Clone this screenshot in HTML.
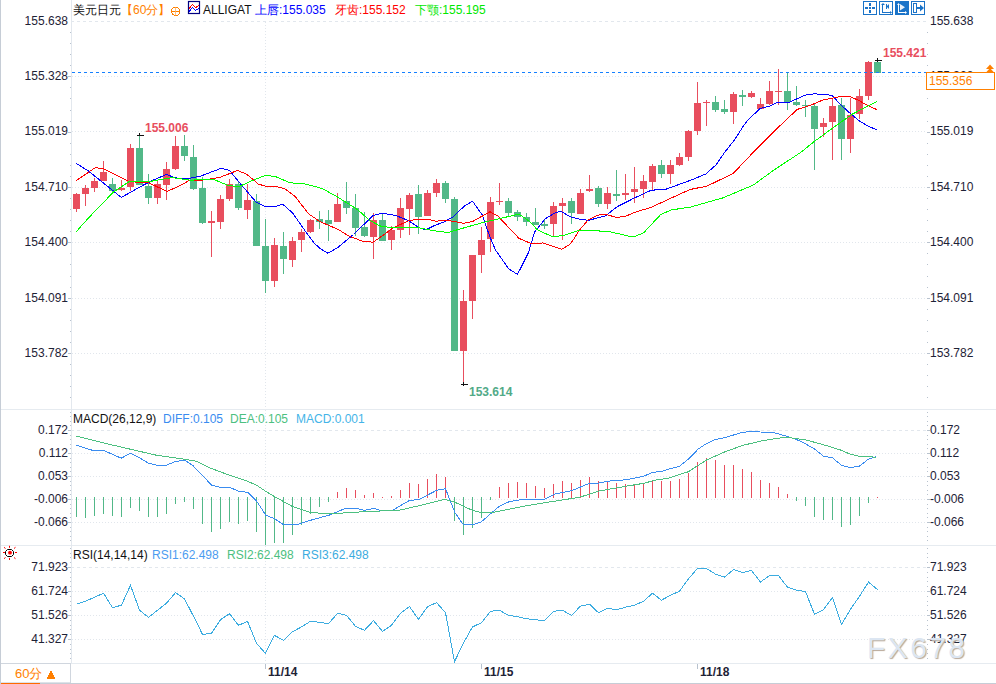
<!DOCTYPE html>
<html><head><meta charset="utf-8"><style>
*{margin:0;padding:0;box-sizing:border-box}
html,body{width:996px;height:684px;overflow:hidden;background:#fff}
body{position:relative;font-family:"Liberation Sans",sans-serif;font-size:12px;color:#222}
svg{position:absolute;left:0;top:0}
.yl{position:absolute;height:16px;line-height:16px;font-size:12px;color:#1e2236;white-space:nowrap}
.yl.l{right:928px;text-align:right}
.yl.r{left:930px}
.t{position:absolute;white-space:nowrap;font-size:12px;line-height:16px}
.xl{position:absolute;top:664px;font-weight:bold;font-size:12px;line-height:16px;color:#1e2236}
</style></head><body>
<svg width="996" height="684" viewBox="0 0 996 684">
<rect x="0" y="0" width="1" height="684" fill="#c6cdd6"/>
<rect x="1" y="409" width="995" height="1" fill="#e6ebf0"/>
<rect x="1" y="545" width="995" height="1" fill="#e6ebf0"/>
<rect x="1" y="663" width="995" height="1" fill="#e6ebf0"/>
<rect x="0" y="683" width="996" height="1" fill="#c6cdd6"/>
<rect x="71" y="0" width="1" height="663" fill="#e3e8ee"/>
<line x1="72" y1="21.5" x2="926" y2="21.5" stroke="#e2e7ed" stroke-dasharray="3,3" stroke-dashoffset="1"/>
<line x1="72" y1="76.5" x2="926" y2="76.5" stroke="#e1e6ec" stroke-dasharray="1,2"/>
<line x1="72" y1="131.5" x2="926" y2="131.5" stroke="#e1e6ec" stroke-dasharray="1,2"/>
<line x1="72" y1="187.5" x2="926" y2="187.5" stroke="#e1e6ec" stroke-dasharray="1,2"/>
<line x1="72" y1="242.5" x2="926" y2="242.5" stroke="#e1e6ec" stroke-dasharray="1,2"/>
<line x1="72" y1="298.5" x2="926" y2="298.5" stroke="#e1e6ec" stroke-dasharray="1,2"/>
<line x1="72" y1="353.5" x2="926" y2="353.5" stroke="#e1e6ec" stroke-dasharray="1,2"/>
<line x1="72" y1="430.5" x2="926" y2="430.5" stroke="#e2e7ed" stroke-dasharray="3,3" stroke-dashoffset="1"/>
<line x1="72" y1="453.5" x2="926" y2="453.5" stroke="#e1e6ec" stroke-dasharray="1,2"/>
<line x1="72" y1="476.5" x2="926" y2="476.5" stroke="#e1e6ec" stroke-dasharray="1,2"/>
<line x1="72" y1="499.5" x2="926" y2="499.5" stroke="#e1e6ec" stroke-dasharray="1,2"/>
<line x1="72" y1="522.5" x2="926" y2="522.5" stroke="#e1e6ec" stroke-dasharray="1,2"/>
<line x1="72" y1="567.5" x2="926" y2="567.5" stroke="#e2e7ed" stroke-dasharray="3,3" stroke-dashoffset="1"/>
<line x1="72" y1="591.5" x2="926" y2="591.5" stroke="#e1e6ec" stroke-dasharray="1,2"/>
<line x1="72" y1="615.5" x2="926" y2="615.5" stroke="#e1e6ec" stroke-dasharray="1,2"/>
<line x1="72" y1="639.5" x2="926" y2="639.5" stroke="#e1e6ec" stroke-dasharray="1,2"/>
<line x1="265.5" y1="22" x2="265.5" y2="409" stroke="#e1e6ec" stroke-dasharray="1,2"/>
<line x1="265.5" y1="410" x2="265.5" y2="545" stroke="#e1e6ec" stroke-dasharray="1,2"/>
<line x1="265.5" y1="546" x2="265.5" y2="663" stroke="#e1e6ec" stroke-dasharray="1,2"/>
<rect x="70" y="32" width="1" height="1" fill="#b8c2ce"/>
<rect x="927" y="32" width="1" height="1" fill="#b8c2ce"/>
<rect x="70" y="43" width="1" height="1" fill="#b8c2ce"/>
<rect x="927" y="43" width="1" height="1" fill="#b8c2ce"/>
<rect x="70" y="54" width="1" height="1" fill="#b8c2ce"/>
<rect x="927" y="54" width="1" height="1" fill="#b8c2ce"/>
<rect x="70" y="65" width="1" height="1" fill="#b8c2ce"/>
<rect x="927" y="65" width="1" height="1" fill="#b8c2ce"/>
<rect x="68" y="76" width="3" height="1" fill="#b8c2ce"/>
<rect x="927" y="76" width="3" height="1" fill="#b8c2ce"/>
<rect x="70" y="87" width="1" height="1" fill="#b8c2ce"/>
<rect x="927" y="87" width="1" height="1" fill="#b8c2ce"/>
<rect x="70" y="98" width="1" height="1" fill="#b8c2ce"/>
<rect x="927" y="98" width="1" height="1" fill="#b8c2ce"/>
<rect x="70" y="110" width="1" height="1" fill="#b8c2ce"/>
<rect x="927" y="110" width="1" height="1" fill="#b8c2ce"/>
<rect x="70" y="121" width="1" height="1" fill="#b8c2ce"/>
<rect x="927" y="121" width="1" height="1" fill="#b8c2ce"/>
<rect x="68" y="132" width="3" height="1" fill="#b8c2ce"/>
<rect x="927" y="132" width="3" height="1" fill="#b8c2ce"/>
<rect x="70" y="143" width="1" height="1" fill="#b8c2ce"/>
<rect x="927" y="143" width="1" height="1" fill="#b8c2ce"/>
<rect x="70" y="154" width="1" height="1" fill="#b8c2ce"/>
<rect x="927" y="154" width="1" height="1" fill="#b8c2ce"/>
<rect x="70" y="165" width="1" height="1" fill="#b8c2ce"/>
<rect x="927" y="165" width="1" height="1" fill="#b8c2ce"/>
<rect x="70" y="176" width="1" height="1" fill="#b8c2ce"/>
<rect x="927" y="176" width="1" height="1" fill="#b8c2ce"/>
<rect x="68" y="187" width="3" height="1" fill="#b8c2ce"/>
<rect x="927" y="187" width="3" height="1" fill="#b8c2ce"/>
<rect x="70" y="198" width="1" height="1" fill="#b8c2ce"/>
<rect x="927" y="198" width="1" height="1" fill="#b8c2ce"/>
<rect x="70" y="209" width="1" height="1" fill="#b8c2ce"/>
<rect x="927" y="209" width="1" height="1" fill="#b8c2ce"/>
<rect x="70" y="220" width="1" height="1" fill="#b8c2ce"/>
<rect x="927" y="220" width="1" height="1" fill="#b8c2ce"/>
<rect x="70" y="231" width="1" height="1" fill="#b8c2ce"/>
<rect x="927" y="231" width="1" height="1" fill="#b8c2ce"/>
<rect x="68" y="242" width="3" height="1" fill="#b8c2ce"/>
<rect x="927" y="242" width="3" height="1" fill="#b8c2ce"/>
<rect x="70" y="253" width="1" height="1" fill="#b8c2ce"/>
<rect x="927" y="253" width="1" height="1" fill="#b8c2ce"/>
<rect x="70" y="264" width="1" height="1" fill="#b8c2ce"/>
<rect x="927" y="264" width="1" height="1" fill="#b8c2ce"/>
<rect x="70" y="276" width="1" height="1" fill="#b8c2ce"/>
<rect x="927" y="276" width="1" height="1" fill="#b8c2ce"/>
<rect x="70" y="287" width="1" height="1" fill="#b8c2ce"/>
<rect x="927" y="287" width="1" height="1" fill="#b8c2ce"/>
<rect x="68" y="298" width="3" height="1" fill="#b8c2ce"/>
<rect x="927" y="298" width="3" height="1" fill="#b8c2ce"/>
<rect x="70" y="309" width="1" height="1" fill="#b8c2ce"/>
<rect x="927" y="309" width="1" height="1" fill="#b8c2ce"/>
<rect x="70" y="320" width="1" height="1" fill="#b8c2ce"/>
<rect x="927" y="320" width="1" height="1" fill="#b8c2ce"/>
<rect x="70" y="331" width="1" height="1" fill="#b8c2ce"/>
<rect x="927" y="331" width="1" height="1" fill="#b8c2ce"/>
<rect x="70" y="342" width="1" height="1" fill="#b8c2ce"/>
<rect x="927" y="342" width="1" height="1" fill="#b8c2ce"/>
<rect x="68" y="353" width="3" height="1" fill="#b8c2ce"/>
<rect x="927" y="353" width="3" height="1" fill="#b8c2ce"/>
<rect x="70" y="364" width="1" height="1" fill="#b8c2ce"/>
<rect x="927" y="364" width="1" height="1" fill="#b8c2ce"/>
<rect x="70" y="375" width="1" height="1" fill="#b8c2ce"/>
<rect x="927" y="375" width="1" height="1" fill="#b8c2ce"/>
<rect x="70" y="386" width="1" height="1" fill="#b8c2ce"/>
<rect x="927" y="386" width="1" height="1" fill="#b8c2ce"/>
<rect x="70" y="397" width="1" height="1" fill="#b8c2ce"/>
<rect x="927" y="397" width="1" height="1" fill="#b8c2ce"/>
<rect x="70" y="412" width="1" height="1" fill="#b8c2ce"/>
<rect x="927" y="412" width="1" height="1" fill="#b8c2ce"/>
<rect x="70" y="416" width="1" height="1" fill="#b8c2ce"/>
<rect x="927" y="416" width="1" height="1" fill="#b8c2ce"/>
<rect x="70" y="421" width="1" height="1" fill="#b8c2ce"/>
<rect x="927" y="421" width="1" height="1" fill="#b8c2ce"/>
<rect x="70" y="425" width="1" height="1" fill="#b8c2ce"/>
<rect x="927" y="425" width="1" height="1" fill="#b8c2ce"/>
<rect x="68" y="430" width="3" height="1" fill="#b8c2ce"/>
<rect x="927" y="430" width="3" height="1" fill="#b8c2ce"/>
<rect x="70" y="435" width="1" height="1" fill="#b8c2ce"/>
<rect x="927" y="435" width="1" height="1" fill="#b8c2ce"/>
<rect x="70" y="439" width="1" height="1" fill="#b8c2ce"/>
<rect x="927" y="439" width="1" height="1" fill="#b8c2ce"/>
<rect x="70" y="444" width="1" height="1" fill="#b8c2ce"/>
<rect x="927" y="444" width="1" height="1" fill="#b8c2ce"/>
<rect x="70" y="448" width="1" height="1" fill="#b8c2ce"/>
<rect x="927" y="448" width="1" height="1" fill="#b8c2ce"/>
<rect x="68" y="453" width="3" height="1" fill="#b8c2ce"/>
<rect x="927" y="453" width="3" height="1" fill="#b8c2ce"/>
<rect x="70" y="458" width="1" height="1" fill="#b8c2ce"/>
<rect x="927" y="458" width="1" height="1" fill="#b8c2ce"/>
<rect x="70" y="462" width="1" height="1" fill="#b8c2ce"/>
<rect x="927" y="462" width="1" height="1" fill="#b8c2ce"/>
<rect x="70" y="467" width="1" height="1" fill="#b8c2ce"/>
<rect x="927" y="467" width="1" height="1" fill="#b8c2ce"/>
<rect x="70" y="471" width="1" height="1" fill="#b8c2ce"/>
<rect x="927" y="471" width="1" height="1" fill="#b8c2ce"/>
<rect x="68" y="476" width="3" height="1" fill="#b8c2ce"/>
<rect x="927" y="476" width="3" height="1" fill="#b8c2ce"/>
<rect x="70" y="481" width="1" height="1" fill="#b8c2ce"/>
<rect x="927" y="481" width="1" height="1" fill="#b8c2ce"/>
<rect x="70" y="485" width="1" height="1" fill="#b8c2ce"/>
<rect x="927" y="485" width="1" height="1" fill="#b8c2ce"/>
<rect x="70" y="490" width="1" height="1" fill="#b8c2ce"/>
<rect x="927" y="490" width="1" height="1" fill="#b8c2ce"/>
<rect x="70" y="494" width="1" height="1" fill="#b8c2ce"/>
<rect x="927" y="494" width="1" height="1" fill="#b8c2ce"/>
<rect x="68" y="499" width="3" height="1" fill="#b8c2ce"/>
<rect x="927" y="499" width="3" height="1" fill="#b8c2ce"/>
<rect x="70" y="504" width="1" height="1" fill="#b8c2ce"/>
<rect x="927" y="504" width="1" height="1" fill="#b8c2ce"/>
<rect x="70" y="508" width="1" height="1" fill="#b8c2ce"/>
<rect x="927" y="508" width="1" height="1" fill="#b8c2ce"/>
<rect x="70" y="513" width="1" height="1" fill="#b8c2ce"/>
<rect x="927" y="513" width="1" height="1" fill="#b8c2ce"/>
<rect x="70" y="517" width="1" height="1" fill="#b8c2ce"/>
<rect x="927" y="517" width="1" height="1" fill="#b8c2ce"/>
<rect x="68" y="522" width="3" height="1" fill="#b8c2ce"/>
<rect x="927" y="522" width="3" height="1" fill="#b8c2ce"/>
<rect x="70" y="527" width="1" height="1" fill="#b8c2ce"/>
<rect x="927" y="527" width="1" height="1" fill="#b8c2ce"/>
<rect x="70" y="531" width="1" height="1" fill="#b8c2ce"/>
<rect x="927" y="531" width="1" height="1" fill="#b8c2ce"/>
<rect x="70" y="536" width="1" height="1" fill="#b8c2ce"/>
<rect x="927" y="536" width="1" height="1" fill="#b8c2ce"/>
<rect x="70" y="540" width="1" height="1" fill="#b8c2ce"/>
<rect x="927" y="540" width="1" height="1" fill="#b8c2ce"/>
<rect x="70" y="548" width="1" height="1" fill="#b8c2ce"/>
<rect x="927" y="548" width="1" height="1" fill="#b8c2ce"/>
<rect x="70" y="553" width="1" height="1" fill="#b8c2ce"/>
<rect x="927" y="553" width="1" height="1" fill="#b8c2ce"/>
<rect x="70" y="557" width="1" height="1" fill="#b8c2ce"/>
<rect x="927" y="557" width="1" height="1" fill="#b8c2ce"/>
<rect x="70" y="562" width="1" height="1" fill="#b8c2ce"/>
<rect x="927" y="562" width="1" height="1" fill="#b8c2ce"/>
<rect x="68" y="567" width="3" height="1" fill="#b8c2ce"/>
<rect x="927" y="567" width="3" height="1" fill="#b8c2ce"/>
<rect x="70" y="572" width="1" height="1" fill="#b8c2ce"/>
<rect x="927" y="572" width="1" height="1" fill="#b8c2ce"/>
<rect x="70" y="577" width="1" height="1" fill="#b8c2ce"/>
<rect x="927" y="577" width="1" height="1" fill="#b8c2ce"/>
<rect x="70" y="581" width="1" height="1" fill="#b8c2ce"/>
<rect x="927" y="581" width="1" height="1" fill="#b8c2ce"/>
<rect x="70" y="586" width="1" height="1" fill="#b8c2ce"/>
<rect x="927" y="586" width="1" height="1" fill="#b8c2ce"/>
<rect x="68" y="591" width="3" height="1" fill="#b8c2ce"/>
<rect x="927" y="591" width="3" height="1" fill="#b8c2ce"/>
<rect x="70" y="596" width="1" height="1" fill="#b8c2ce"/>
<rect x="927" y="596" width="1" height="1" fill="#b8c2ce"/>
<rect x="70" y="601" width="1" height="1" fill="#b8c2ce"/>
<rect x="927" y="601" width="1" height="1" fill="#b8c2ce"/>
<rect x="70" y="605" width="1" height="1" fill="#b8c2ce"/>
<rect x="927" y="605" width="1" height="1" fill="#b8c2ce"/>
<rect x="70" y="610" width="1" height="1" fill="#b8c2ce"/>
<rect x="927" y="610" width="1" height="1" fill="#b8c2ce"/>
<rect x="68" y="615" width="3" height="1" fill="#b8c2ce"/>
<rect x="927" y="615" width="3" height="1" fill="#b8c2ce"/>
<rect x="70" y="620" width="1" height="1" fill="#b8c2ce"/>
<rect x="927" y="620" width="1" height="1" fill="#b8c2ce"/>
<rect x="70" y="625" width="1" height="1" fill="#b8c2ce"/>
<rect x="927" y="625" width="1" height="1" fill="#b8c2ce"/>
<rect x="70" y="629" width="1" height="1" fill="#b8c2ce"/>
<rect x="927" y="629" width="1" height="1" fill="#b8c2ce"/>
<rect x="70" y="634" width="1" height="1" fill="#b8c2ce"/>
<rect x="927" y="634" width="1" height="1" fill="#b8c2ce"/>
<rect x="68" y="639" width="3" height="1" fill="#b8c2ce"/>
<rect x="927" y="639" width="3" height="1" fill="#b8c2ce"/>
<rect x="70" y="644" width="1" height="1" fill="#b8c2ce"/>
<rect x="927" y="644" width="1" height="1" fill="#b8c2ce"/>
<rect x="70" y="649" width="1" height="1" fill="#b8c2ce"/>
<rect x="927" y="649" width="1" height="1" fill="#b8c2ce"/>
<rect x="70" y="653" width="1" height="1" fill="#b8c2ce"/>
<rect x="927" y="653" width="1" height="1" fill="#b8c2ce"/>
<rect x="70" y="658" width="1" height="1" fill="#b8c2ce"/>
<rect x="927" y="658" width="1" height="1" fill="#b8c2ce"/>
<g shape-rendering="crispEdges">
<rect x="76" y="193.2" width="1" height="18.6" fill="#e84e5e"/>
<rect x="73" y="194.1" width="7" height="14.6" fill="#e84e5e"/>
<rect x="85" y="185.1" width="1" height="20.8" fill="#e84e5e"/>
<rect x="82" y="188.2" width="7" height="5.5" fill="#e84e5e"/>
<rect x="94" y="178.0" width="1" height="13.8" fill="#e84e5e"/>
<rect x="91" y="181.2" width="7" height="6.6" fill="#e84e5e"/>
<rect x="103" y="160.8" width="1" height="19.9" fill="#e84e5e"/>
<rect x="100" y="172.1" width="7" height="8.6" fill="#e84e5e"/>
<rect x="112" y="178.0" width="1" height="16.0" fill="#52b888"/>
<rect x="109" y="184.1" width="7" height="6.4" fill="#52b888"/>
<rect x="121" y="180.0" width="1" height="11.4" fill="#e84e5e"/>
<rect x="118" y="188.2" width="7" height="1.5" fill="#e84e5e"/>
<rect x="130" y="144.1" width="1" height="46.7" fill="#e84e5e"/>
<rect x="127" y="148.0" width="7" height="38.6" fill="#e84e5e"/>
<rect x="139" y="135.3" width="1" height="49.3" fill="#52b888"/>
<rect x="136" y="148.0" width="7" height="36.6" fill="#52b888"/>
<rect x="148" y="174.0" width="1" height="30.0" fill="#52b888"/>
<rect x="145" y="185.8" width="7" height="11.8" fill="#52b888"/>
<rect x="157" y="180.5" width="1" height="23.5" fill="#e84e5e"/>
<rect x="154" y="184.0" width="7" height="13.6" fill="#e84e5e"/>
<rect x="166" y="162.1" width="1" height="37.6" fill="#e84e5e"/>
<rect x="163" y="169.0" width="7" height="15.6" fill="#e84e5e"/>
<rect x="175" y="136.2" width="1" height="33.5" fill="#e84e5e"/>
<rect x="172" y="146.0" width="7" height="22.7" fill="#e84e5e"/>
<rect x="184" y="134.9" width="1" height="25.6" fill="#52b888"/>
<rect x="181" y="146.0" width="7" height="9.7" fill="#52b888"/>
<rect x="193" y="145.0" width="1" height="44.7" fill="#52b888"/>
<rect x="190" y="157.0" width="7" height="31.8" fill="#52b888"/>
<rect x="202" y="177.2" width="1" height="46.6" fill="#52b888"/>
<rect x="199" y="188.0" width="7" height="34.9" fill="#52b888"/>
<rect x="211" y="211.0" width="1" height="45.7" fill="#e84e5e"/>
<rect x="208" y="221.2" width="7" height="1.7" fill="#e84e5e"/>
<rect x="220" y="195.0" width="1" height="34.0" fill="#e84e5e"/>
<rect x="217" y="199.2" width="7" height="22.5" fill="#e84e5e"/>
<rect x="229" y="179.0" width="1" height="21.8" fill="#e84e5e"/>
<rect x="226" y="184.1" width="7" height="14.7" fill="#e84e5e"/>
<rect x="238" y="182.0" width="1" height="27.7" fill="#52b888"/>
<rect x="235" y="184.1" width="7" height="23.7" fill="#52b888"/>
<rect x="247" y="184.1" width="1" height="34.8" fill="#e84e5e"/>
<rect x="244" y="200.1" width="7" height="9.6" fill="#e84e5e"/>
<rect x="256" y="194.0" width="1" height="51.8" fill="#52b888"/>
<rect x="253" y="200.8" width="7" height="45.0" fill="#52b888"/>
<rect x="265" y="219.2" width="1" height="73.7" fill="#52b888"/>
<rect x="262" y="245.9" width="7" height="34.9" fill="#52b888"/>
<rect x="274" y="238.0" width="1" height="49.0" fill="#e84e5e"/>
<rect x="271" y="245.0" width="7" height="35.8" fill="#e84e5e"/>
<rect x="283" y="232.1" width="1" height="42.0" fill="#52b888"/>
<rect x="280" y="245.9" width="7" height="13.0" fill="#52b888"/>
<rect x="292" y="237.0" width="1" height="30.0" fill="#e84e5e"/>
<rect x="289" y="241.2" width="7" height="18.5" fill="#e84e5e"/>
<rect x="301" y="229.1" width="1" height="22.7" fill="#e84e5e"/>
<rect x="298" y="232.0" width="7" height="7.9" fill="#e84e5e"/>
<rect x="310" y="219.2" width="1" height="13.4" fill="#e84e5e"/>
<rect x="307" y="219.9" width="7" height="11.8" fill="#e84e5e"/>
<rect x="319" y="211.0" width="1" height="17.8" fill="#52b888"/>
<rect x="316" y="219.1" width="7" height="2.6" fill="#52b888"/>
<rect x="328" y="210.1" width="1" height="30.6" fill="#52b888"/>
<rect x="325" y="220.0" width="7" height="3.7" fill="#52b888"/>
<rect x="337" y="193.0" width="1" height="28.7" fill="#e84e5e"/>
<rect x="334" y="203.9" width="7" height="17.8" fill="#e84e5e"/>
<rect x="346" y="182.1" width="1" height="31.7" fill="#52b888"/>
<rect x="343" y="201.2" width="7" height="6.6" fill="#52b888"/>
<rect x="355" y="194.1" width="1" height="42.3" fill="#52b888"/>
<rect x="352" y="208.2" width="7" height="19.4" fill="#52b888"/>
<rect x="364" y="212.1" width="1" height="24.6" fill="#52b888"/>
<rect x="361" y="227.0" width="7" height="8.8" fill="#52b888"/>
<rect x="373" y="213.0" width="1" height="45.8" fill="#e84e5e"/>
<rect x="370" y="220.0" width="7" height="16.7" fill="#e84e5e"/>
<rect x="382" y="213.8" width="1" height="26.9" fill="#52b888"/>
<rect x="379" y="220.0" width="7" height="20.7" fill="#52b888"/>
<rect x="391" y="225.9" width="1" height="23.7" fill="#e84e5e"/>
<rect x="388" y="230.1" width="7" height="9.6" fill="#e84e5e"/>
<rect x="400" y="197.9" width="1" height="40.1" fill="#e84e5e"/>
<rect x="397" y="208.2" width="7" height="21.7" fill="#e84e5e"/>
<rect x="409" y="193.0" width="1" height="41.7" fill="#e84e5e"/>
<rect x="406" y="195.0" width="7" height="13.8" fill="#e84e5e"/>
<rect x="418" y="185.1" width="1" height="48.7" fill="#52b888"/>
<rect x="415" y="194.1" width="7" height="22.6" fill="#52b888"/>
<rect x="427" y="190.0" width="1" height="25.8" fill="#e84e5e"/>
<rect x="424" y="193.0" width="7" height="22.8" fill="#e84e5e"/>
<rect x="436" y="179.0" width="1" height="18.0" fill="#e84e5e"/>
<rect x="433" y="183.2" width="7" height="9.4" fill="#e84e5e"/>
<rect x="445" y="181.2" width="1" height="21.7" fill="#52b888"/>
<rect x="442" y="183.2" width="7" height="15.5" fill="#52b888"/>
<rect x="454" y="197.0" width="1" height="153.9" fill="#52b888"/>
<rect x="451" y="199.2" width="7" height="151.7" fill="#52b888"/>
<rect x="463" y="290.1" width="1" height="94.4" fill="#e84e5e"/>
<rect x="460" y="301.0" width="7" height="49.9" fill="#e84e5e"/>
<rect x="472" y="255.0" width="1" height="63.8" fill="#e84e5e"/>
<rect x="469" y="255.1" width="7" height="45.6" fill="#e84e5e"/>
<rect x="481" y="227.2" width="1" height="45.5" fill="#e84e5e"/>
<rect x="478" y="240.1" width="7" height="14.8" fill="#e84e5e"/>
<rect x="490" y="197.2" width="1" height="54.4" fill="#e84e5e"/>
<rect x="487" y="202.0" width="7" height="36.7" fill="#e84e5e"/>
<rect x="499" y="183.2" width="1" height="21.7" fill="#e84e5e"/>
<rect x="496" y="200.9" width="7" height="1.5" fill="#e84e5e"/>
<rect x="508" y="198.0" width="1" height="18.0" fill="#52b888"/>
<rect x="505" y="201.2" width="7" height="11.6" fill="#52b888"/>
<rect x="517" y="210.1" width="1" height="10.6" fill="#52b888"/>
<rect x="514" y="212.1" width="7" height="4.6" fill="#52b888"/>
<rect x="526" y="213.2" width="1" height="12.7" fill="#52b888"/>
<rect x="523" y="217.1" width="7" height="4.6" fill="#52b888"/>
<rect x="535" y="208.2" width="1" height="16.8" fill="#52b888"/>
<rect x="532" y="222.2" width="7" height="2.4" fill="#52b888"/>
<rect x="544" y="219.3" width="1" height="9.3" fill="#52b888"/>
<rect x="541" y="224.0" width="7" height="1.9" fill="#52b888"/>
<rect x="553" y="202.0" width="1" height="33.8" fill="#e84e5e"/>
<rect x="550" y="206.2" width="7" height="17.5" fill="#e84e5e"/>
<rect x="562" y="198.0" width="1" height="42.4" fill="#e84e5e"/>
<rect x="559" y="203.2" width="7" height="2.6" fill="#e84e5e"/>
<rect x="571" y="198.0" width="1" height="26.0" fill="#52b888"/>
<rect x="568" y="201.1" width="7" height="11.7" fill="#52b888"/>
<rect x="580" y="189.1" width="1" height="24.7" fill="#e84e5e"/>
<rect x="577" y="193.0" width="7" height="20.8" fill="#e84e5e"/>
<rect x="589" y="175.0" width="1" height="16.8" fill="#e84e5e"/>
<rect x="586" y="189.1" width="7" height="1.7" fill="#e84e5e"/>
<rect x="598" y="186.2" width="1" height="20.6" fill="#52b888"/>
<rect x="595" y="188.2" width="7" height="15.5" fill="#52b888"/>
<rect x="607" y="187.2" width="1" height="21.6" fill="#e84e5e"/>
<rect x="604" y="193.0" width="7" height="10.7" fill="#e84e5e"/>
<rect x="616" y="170.0" width="1" height="30.7" fill="#52b888"/>
<rect x="613" y="194.3" width="7" height="1.5" fill="#52b888"/>
<rect x="625" y="174.1" width="1" height="25.6" fill="#e84e5e"/>
<rect x="622" y="193.0" width="7" height="1.7" fill="#e84e5e"/>
<rect x="634" y="167.1" width="1" height="35.8" fill="#e84e5e"/>
<rect x="631" y="189.1" width="7" height="2.7" fill="#e84e5e"/>
<rect x="643" y="175.0" width="1" height="22.8" fill="#e84e5e"/>
<rect x="640" y="181.2" width="7" height="7.6" fill="#e84e5e"/>
<rect x="652" y="164.1" width="1" height="26.0" fill="#e84e5e"/>
<rect x="649" y="166.1" width="7" height="15.5" fill="#e84e5e"/>
<rect x="661" y="160.1" width="1" height="17.8" fill="#52b888"/>
<rect x="658" y="165.1" width="7" height="8.6" fill="#52b888"/>
<rect x="670" y="160.1" width="1" height="23.7" fill="#e84e5e"/>
<rect x="667" y="165.1" width="7" height="8.6" fill="#e84e5e"/>
<rect x="679" y="153.0" width="1" height="12.8" fill="#e84e5e"/>
<rect x="676" y="157.2" width="7" height="7.5" fill="#e84e5e"/>
<rect x="688" y="130.0" width="1" height="30.8" fill="#e84e5e"/>
<rect x="685" y="130.9" width="7" height="25.7" fill="#e84e5e"/>
<rect x="697" y="82.1" width="1" height="52.6" fill="#e84e5e"/>
<rect x="694" y="103.2" width="7" height="27.5" fill="#e84e5e"/>
<rect x="706" y="100.0" width="1" height="25.9" fill="#e84e5e"/>
<rect x="703" y="101.5" width="7" height="1.5" fill="#e84e5e"/>
<rect x="715" y="96.0" width="1" height="16.0" fill="#52b888"/>
<rect x="712" y="101.9" width="7" height="7.9" fill="#52b888"/>
<rect x="724" y="100.0" width="1" height="14.0" fill="#52b888"/>
<rect x="721" y="109.0" width="7" height="2.7" fill="#52b888"/>
<rect x="733" y="92.0" width="1" height="31.6" fill="#e84e5e"/>
<rect x="730" y="94.0" width="7" height="17.8" fill="#e84e5e"/>
<rect x="742" y="90.1" width="1" height="15.6" fill="#52b888"/>
<rect x="739" y="95.0" width="7" height="1.9" fill="#52b888"/>
<rect x="751" y="91.0" width="1" height="7.0" fill="#e84e5e"/>
<rect x="748" y="93.0" width="7" height="3.9" fill="#e84e5e"/>
<rect x="760" y="98.0" width="1" height="10.8" fill="#e84e5e"/>
<rect x="757" y="104.2" width="7" height="4.6" fill="#e84e5e"/>
<rect x="769" y="81.1" width="1" height="23.7" fill="#e84e5e"/>
<rect x="766" y="91.0" width="7" height="12.9" fill="#e84e5e"/>
<rect x="778" y="68.9" width="1" height="35.9" fill="#e84e5e"/>
<rect x="775" y="90.6" width="7" height="1.5" fill="#e84e5e"/>
<rect x="787" y="72.6" width="1" height="37.2" fill="#52b888"/>
<rect x="784" y="91.0" width="7" height="10.8" fill="#52b888"/>
<rect x="796" y="86.0" width="1" height="19.9" fill="#52b888"/>
<rect x="793" y="102.2" width="7" height="2.6" fill="#52b888"/>
<rect x="805" y="100.0" width="1" height="16.7" fill="#52b888"/>
<rect x="802" y="104.8" width="7" height="1.5" fill="#52b888"/>
<rect x="814" y="102.6" width="1" height="67.1" fill="#52b888"/>
<rect x="811" y="105.9" width="7" height="22.7" fill="#52b888"/>
<rect x="823" y="118.0" width="1" height="18.8" fill="#e84e5e"/>
<rect x="820" y="122.8" width="7" height="4.0" fill="#e84e5e"/>
<rect x="832" y="99.1" width="1" height="60.5" fill="#e84e5e"/>
<rect x="829" y="105.8" width="7" height="15.8" fill="#e84e5e"/>
<rect x="841" y="98.2" width="1" height="61.4" fill="#52b888"/>
<rect x="838" y="104.9" width="7" height="33.7" fill="#52b888"/>
<rect x="850" y="98.2" width="1" height="54.4" fill="#e84e5e"/>
<rect x="847" y="114.9" width="7" height="23.7" fill="#e84e5e"/>
<rect x="859" y="88.9" width="1" height="30.4" fill="#e84e5e"/>
<rect x="856" y="96.0" width="7" height="17.5" fill="#e84e5e"/>
<rect x="868" y="60.9" width="1" height="39.1" fill="#e84e5e"/>
<rect x="865" y="61.9" width="7" height="33.7" fill="#e84e5e"/>
<rect x="877" y="59.6" width="1" height="12.9" fill="#52b888"/>
<rect x="874" y="61.9" width="7" height="10.6" fill="#52b888"/>
</g>
<line x1="72" y1="72.5" x2="926" y2="72.5" stroke="#1480ff" stroke-dasharray="3,3"/>
<polyline points="75.9,163.2 88.4,171.0 121.3,197.4 143.7,184.9 152.9,180.3 166.7,174.3 174.0,177.6 184.5,179.0 190.0,178.2 200.0,176.3 221.2,168.3 229.5,170.5 241.3,184.7 255.8,201.8 265.0,206.4 275.5,206.4 282.8,204.2 292.6,213.0 304.5,230.0 314.0,243.0 320.6,248.9 327.8,253.2 337.7,247.6 353.5,234.5 373.2,215.4 382.4,213.2 395.6,215.4 408.7,220.7 419.3,227.9 425.8,229.9 435.0,225.3 444.0,222.0 453.2,216.7 465.0,205.5 472.6,201.3 482.1,214.7 490.0,237.1 495.5,250.0 508.8,268.9 517.5,274.4 528.3,253.0 534.7,231.8 545.3,218.7 555.8,212.4 561.0,211.4 570.0,216.7 579.2,219.1 588.4,220.4 605.5,215.8 617.3,206.6 634.4,198.0 651.5,190.1 664.7,189.7 677.8,184.9 690.0,180.5 705.8,174.0 716.3,164.7 724.2,152.9 734.7,139.7 742.6,127.2 747.9,120.0 760.3,108.4 769.5,106.1 778.1,102.2 789.3,102.2 805.0,95.2 814.0,93.9 826.3,94.4 832.5,96.0 842.1,106.1 850.9,114.0 859.6,121.1 868.4,126.3 876.8,129.8" fill="none" stroke="#0000ff" stroke-width="1" shape-rendering="crispEdges"/><polyline points="75.9,180.9 95.0,167.8 102.9,168.4 129.2,181.6 149.0,182.9 166.7,191.4 177.9,186.8 188.4,180.9 200.0,180.3 207.1,179.5 220.3,177.2 237.4,170.5 246.6,174.2 258.4,184.1 265.0,186.0 276.8,186.7 284.7,188.7 295.3,196.6 308.4,213.7 320.0,221.6 337.7,229.2 349.5,236.4 364.0,241.7 373.2,242.1 382.4,235.8 393.0,227.9 408.7,220.7 418.0,219.3 428.5,219.3 436.4,221.3 444.0,220.0 455.8,221.7 463.7,223.3 472.9,221.3 490.0,211.8 497.9,216.0 508.4,227.2 519.0,238.4 532.1,243.9 542.6,243.0 553.2,246.3 561.7,249.3 570.0,244.3 573.2,240.0 579.2,230.3 588.4,219.7 597.6,215.1 606.8,214.5 616.0,217.4 625.2,216.4 634.4,212.5 651.5,207.2 671.3,198.0 690.0,189.5 707.1,186.1 733.4,173.3 755.8,149.6 774.2,131.2 797.2,109.4 810.5,105.3 822.8,100.0 840.4,96.5 850.0,96.5 859.6,100.9 868.4,105.8 876.8,109.6" fill="none" stroke="#ff0000" stroke-width="1" shape-rendering="crispEdges"/><polyline points="76.3,231.7 80.2,227.2 89.4,217.0 113.4,192.1 129.2,181.6 149.0,181.6 172.6,177.6 190.0,180.1 213.7,179.5 228.2,185.4 238.7,186.7 251.8,180.8 265.7,175.3 275.5,176.6 290.0,182.8 304.5,183.8 321.9,188.4 336.4,196.3 346.9,202.9 357.4,209.5 369.3,220.0 379.8,225.9 393.0,227.9 406.1,227.2 419.3,227.9 432.4,230.5 447.9,232.5 466.3,227.2 483.4,222.4 499.2,218.7 519.0,214.1 529.5,221.3 537.4,229.9 551.8,236.4 562.4,235.8 570.0,233.2 579.2,230.3 608.1,231.3 633.1,237.1 643.6,232.9 660.7,214.5 671.3,209.9 690.0,207.2 722.9,197.9 753.2,185.1 771.6,171.7 801.8,151.6 814.0,141.7 835.1,126.3 852.6,114.0 868.4,105.8 876.8,101.4" fill="none" stroke="#00ff00" stroke-width="1" shape-rendering="crispEdges"/>
<g shape-rendering="crispEdges"><rect x="76" y="497" width="1" height="20.4" fill="#52b888"/>
<rect x="85" y="497" width="1" height="21.4" fill="#52b888"/>
<rect x="94" y="497" width="1" height="19.4" fill="#52b888"/>
<rect x="103" y="497" width="1" height="16.8" fill="#52b888"/>
<rect x="112" y="497" width="1" height="19.4" fill="#52b888"/>
<rect x="121" y="497" width="1" height="20.4" fill="#52b888"/>
<rect x="130" y="497" width="1" height="10.8" fill="#52b888"/>
<rect x="139" y="497" width="1" height="14.4" fill="#52b888"/>
<rect x="148" y="497" width="1" height="20.4" fill="#52b888"/>
<rect x="157" y="497" width="1" height="20.4" fill="#52b888"/>
<rect x="166" y="497" width="1" height="16.8" fill="#52b888"/>
<rect x="175" y="497" width="1" height="6.8" fill="#52b888"/>
<rect x="184" y="497" width="1" height="4.8" fill="#52b888"/>
<rect x="193" y="497" width="1" height="11.8" fill="#52b888"/>
<rect x="202" y="497" width="1" height="26.5" fill="#52b888"/>
<rect x="211" y="497" width="1" height="34.5" fill="#52b888"/>
<rect x="220" y="497" width="1" height="31.5" fill="#52b888"/>
<rect x="229" y="497" width="1" height="25.4" fill="#52b888"/>
<rect x="238" y="497" width="1" height="26.5" fill="#52b888"/>
<rect x="247" y="497" width="1" height="24.4" fill="#52b888"/>
<rect x="256" y="497" width="1" height="34.8" fill="#52b888"/>
<rect x="265" y="497" width="1" height="47.8" fill="#52b888"/>
<rect x="274" y="497" width="1" height="45.6" fill="#52b888"/>
<rect x="283" y="497" width="1" height="45.6" fill="#52b888"/>
<rect x="292" y="497" width="1" height="37.7" fill="#52b888"/>
<rect x="301" y="497" width="1" height="28.0" fill="#52b888"/>
<rect x="310" y="497" width="1" height="17.4" fill="#52b888"/>
<rect x="319" y="497" width="1" height="9.7" fill="#52b888"/>
<rect x="328" y="497" width="1" height="4.7" fill="#52b888"/>
<rect x="337" y="491.7" width="1" height="6.3" fill="#e84e5e"/>
<rect x="346" y="487.9" width="1" height="10.1" fill="#e84e5e"/>
<rect x="355" y="489.9" width="1" height="8.1" fill="#e84e5e"/>
<rect x="364" y="494.9" width="1" height="3.1" fill="#e84e5e"/>
<rect x="373" y="492.7" width="1" height="5.3" fill="#e84e5e"/>
<rect x="382" y="496.7" width="1" height="1.3" fill="#e84e5e"/>
<rect x="391" y="496.3" width="1" height="1.7" fill="#e84e5e"/>
<rect x="400" y="489.9" width="1" height="8.1" fill="#e84e5e"/>
<rect x="409" y="482.9" width="1" height="15.1" fill="#e84e5e"/>
<rect x="418" y="483.9" width="1" height="14.1" fill="#e84e5e"/>
<rect x="427" y="478.8" width="1" height="19.2" fill="#e84e5e"/>
<rect x="436" y="473.8" width="1" height="24.2" fill="#e84e5e"/>
<rect x="445" y="476.8" width="1" height="21.2" fill="#e84e5e"/>
<rect x="454" y="497" width="1" height="24.4" fill="#52b888"/>
<rect x="463" y="497" width="1" height="37.9" fill="#52b888"/>
<rect x="472" y="497" width="1" height="30.8" fill="#52b888"/>
<rect x="481" y="497" width="1" height="20.8" fill="#52b888"/>
<rect x="490" y="497" width="1" height="2.7" fill="#52b888"/>
<rect x="499" y="486.9" width="1" height="11.1" fill="#e84e5e"/>
<rect x="508" y="482.9" width="1" height="15.1" fill="#e84e5e"/>
<rect x="517" y="481.8" width="1" height="16.2" fill="#e84e5e"/>
<rect x="526" y="482.9" width="1" height="15.1" fill="#e84e5e"/>
<rect x="535" y="485.9" width="1" height="12.1" fill="#e84e5e"/>
<rect x="544" y="487.9" width="1" height="10.1" fill="#e84e5e"/>
<rect x="553" y="483.9" width="1" height="14.1" fill="#e84e5e"/>
<rect x="562" y="480.8" width="1" height="17.2" fill="#e84e5e"/>
<rect x="571" y="482.9" width="1" height="15.1" fill="#e84e5e"/>
<rect x="580" y="479.8" width="1" height="18.2" fill="#e84e5e"/>
<rect x="589" y="476.8" width="1" height="21.2" fill="#e84e5e"/>
<rect x="598" y="480.8" width="1" height="17.2" fill="#e84e5e"/>
<rect x="607" y="480.8" width="1" height="17.2" fill="#e84e5e"/>
<rect x="616" y="482.9" width="1" height="15.1" fill="#e84e5e"/>
<rect x="625" y="483.9" width="1" height="14.1" fill="#e84e5e"/>
<rect x="634" y="484.9" width="1" height="13.1" fill="#e84e5e"/>
<rect x="643" y="483.9" width="1" height="14.1" fill="#e84e5e"/>
<rect x="652" y="479.8" width="1" height="18.2" fill="#e84e5e"/>
<rect x="661" y="480.8" width="1" height="17.2" fill="#e84e5e"/>
<rect x="670" y="480.8" width="1" height="17.2" fill="#e84e5e"/>
<rect x="679" y="478.8" width="1" height="19.2" fill="#e84e5e"/>
<rect x="688" y="472.8" width="1" height="25.2" fill="#e84e5e"/>
<rect x="697" y="461.8" width="1" height="36.2" fill="#e84e5e"/>
<rect x="706" y="457.8" width="1" height="40.2" fill="#e84e5e"/>
<rect x="715" y="459.8" width="1" height="38.2" fill="#e84e5e"/>
<rect x="724" y="464.8" width="1" height="33.2" fill="#e84e5e"/>
<rect x="733" y="464.8" width="1" height="33.2" fill="#e84e5e"/>
<rect x="742" y="468.8" width="1" height="29.2" fill="#e84e5e"/>
<rect x="751" y="471.8" width="1" height="26.2" fill="#e84e5e"/>
<rect x="760" y="479.8" width="1" height="18.2" fill="#e84e5e"/>
<rect x="769" y="482.9" width="1" height="15.1" fill="#e84e5e"/>
<rect x="778" y="486.9" width="1" height="11.1" fill="#e84e5e"/>
<rect x="787" y="493.9" width="1" height="4.1" fill="#e84e5e"/>
<rect x="796" y="497" width="1" height="3.5" fill="#52b888"/>
<rect x="805" y="497" width="1" height="8.5" fill="#52b888"/>
<rect x="814" y="497" width="1" height="19.6" fill="#52b888"/>
<rect x="823" y="497" width="1" height="23.4" fill="#52b888"/>
<rect x="832" y="497" width="1" height="22.6" fill="#52b888"/>
<rect x="841" y="497" width="1" height="29.5" fill="#52b888"/>
<rect x="850" y="497" width="1" height="27.5" fill="#52b888"/>
<rect x="859" y="497" width="1" height="19.4" fill="#52b888"/>
<rect x="868" y="497" width="1" height="5.8" fill="#52b888"/>
<rect x="877" y="496.6" width="1" height="1.4" fill="#e84e5e"/></g>
<polyline points="76.2,445.1 92.1,450.2 104.2,450.6 121.2,458.2 130.7,453.2 140.3,458.2 148.3,463.2 156.4,465.2 166.4,465.2 175.4,461.6 184.5,460.2 192.5,465.2 202.5,475.3 211.6,485.3 220.6,487.3 229.7,487.3 238.7,491.3 247.7,492.3 256.8,501.4 266.0,515.4 274.1,518.4 283.7,524.8 296.1,524.8 310.2,520.4 330.3,514.8 344.3,508.8 356.4,508.4 364.4,510.4 373.5,508.4 382.5,511.0 392.5,510.4 409.6,500.3 418.6,499.7 436.7,490.3 445.5,488.7 454.8,512.4 463.4,524.8 472.5,524.8 481.1,522.0 499.2,506.3 509.2,501.7 523.3,499.3 544.4,499.3 555.4,493.9 571.5,490.7 589.5,483.3 597.6,483.3 607.6,481.2 625.7,479.8 643.8,476.2 652.0,472.6 662.1,471.2 670.1,468.8 679.1,466.6 688.2,459.2 698.2,449.1 706.2,443.7 715.3,439.5 724.3,437.7 742.4,432.4 751.4,431.4 760.4,432.0 772.5,432.4 786.6,436.1 800.6,441.1 814.7,449.1 823.4,456.2 832.2,457.6 841.4,465.2 850.2,467.6 859.3,466.2 868.3,459.2 876.3,456.6" fill="none" stroke="#3a8cf0" stroke-width="1" shape-rendering="crispEdges"/><polyline points="76.2,436.1 104.2,443.1 130.3,449.2 156.4,455.2 184.5,459.2 196.5,461.2 210.6,468.2 229.7,475.3 247.7,481.3 256.8,485.3 265.8,491.3 274.1,496.3 292.1,506.3 310.2,512.4 330.3,514.0 350.4,512.4 380.5,511.0 400.6,510.0 420.6,505.3 444.7,499.3 455.0,502.3 472.5,510.4 481.1,512.4 491.1,512.8 521.3,506.7 547.4,502.3 579.5,497.3 599.6,490.9 625.7,486.3 643.8,483.3 655.0,480.2 668.1,478.2 688.2,471.8 706.2,460.2 724.3,452.1 742.4,445.5 760.4,441.1 778.5,438.1 788.6,437.5 806.6,440.1 824.7,445.1 840.8,450.1 850.2,454.2 859.3,456.2 876.3,457.2" fill="none" stroke="#4cc080" stroke-width="1" shape-rendering="crispEdges"/><polyline points="76.5,604.2 85.5,601.2 94.5,597.2 103.5,593.2 112.5,607.7 121.5,605.2 130.5,585.2 139.5,610.3 148.5,617.3 157.5,610.3 166.5,603.2 175.5,592.6 184.5,598.8 193.5,616.3 202.5,634.4 211.5,633.4 220.5,619.7 229.5,613.7 238.5,625.3 247.5,621.3 256.5,643.4 265.5,653.4 274.5,635.4 283.5,640.4 292.5,631.7 301.5,626.9 310.5,621.3 319.5,622.3 328.5,623.7 337.5,613.3 346.5,615.3 355.5,626.3 364.5,630.3 373.5,620.7 382.5,631.3 391.5,625.3 400.5,613.3 409.5,606.6 418.5,619.3 427.5,606.8 436.5,602.6 445.5,612.7 454.5,661.7 463.5,643.0 472.5,626.9 481.5,622.7 490.5,611.3 499.5,610.3 508.5,615.3 517.5,616.7 526.5,618.7 535.5,619.7 544.5,620.7 553.5,611.3 562.5,610.3 571.5,615.3 580.5,606.2 589.5,604.2 598.5,612.7 607.5,608.3 616.5,609.7 625.5,607.2 634.5,605.2 643.5,601.2 652.5,593.2 661.5,600.2 670.5,595.2 679.5,591.2 688.5,578.7 697.5,568.5 706.5,568.5 715.5,574.1 724.5,577.1 733.5,569.5 742.5,572.5 751.5,570.5 760.5,582.1 769.5,575.5 778.5,575.5 787.5,587.2 796.5,590.2 805.5,591.6 814.5,614.3 823.5,609.7 832.5,597.6 841.5,624.5 850.5,609.3 859.5,596.2 868.5,582.1 877.5,589.6" fill="none" stroke="#3cace0" stroke-width="1" shape-rendering="crispEdges"/>

<g>
<circle cx="175.6" cy="11.4" r="4.1" fill="none" stroke="#ff8000" stroke-width="1" shape-rendering="crispEdges"/>
<line x1="171.5" y1="11.5" x2="179.7" y2="11.5" stroke="#ff8000" stroke-width="1"/>
<line x1="175.5" y1="7.3" x2="175.5" y2="15.5" stroke="#ffb060" stroke-width="0.8"/>
<rect x="188.5" y="1.5" width="11" height="12" fill="#fff" stroke="#000080" stroke-width="1.2"/>
<polyline points="189,8.5 192.6,4.5 195.5,7.6 199,5.4" fill="none" stroke="#ff0000" stroke-width="1" shape-rendering="crispEdges"/>
<polyline points="189,11.6 192.6,7.4 195.5,10.5 199,8.5" fill="none" stroke="#0000ff" stroke-width="1" shape-rendering="crispEdges"/>
</g>
<g shape-rendering="crispEdges">
<rect x="863.5" y="1.5" width="13" height="13" fill="#fff" stroke="#1a73c8"/>
<rect x="869" y="3" width="2" height="3" fill="#1a73c8"/>
<rect x="869" y="10" width="2" height="3" fill="#1a73c8"/>
<rect x="865" y="7" width="3" height="2" fill="#1a73c8"/>
<rect x="872" y="7" width="3" height="2" fill="#1a73c8"/>
<rect x="869" y="7" width="2" height="2" fill="#1a73c8"/>
<rect x="879.5" y="1.5" width="13" height="13" fill="#fff" stroke="#1a73c8"/>
<rect x="882" y="4" width="1" height="9" fill="#1a73c8"/>
<rect x="882" y="12" width="8" height="1" fill="#1a73c8"/>
<rect x="886" y="4" width="1" height="5" fill="#1a73c8"/>
<rect x="895" y="1" width="14" height="14" fill="#1a73c8"/>
<rect x="898" y="4" width="1" height="9" fill="#fff"/>
<rect x="898" y="12" width="8" height="1" fill="#fff"/>
<rect x="911.5" y="1.5" width="13" height="13" fill="#fff" stroke="#1a73c8"/>
<rect x="913.5" y="3.5" width="3" height="9" fill="none" stroke="#1a73c8"/>
<rect x="917" y="7" width="4" height="2" fill="#1a73c8"/>
</g>
<polygon points="881,5 883,3 885,5" fill="#1a73c8"/>
<polygon points="890,11 892,12.5 890,14" fill="#1a73c8"/>
<polygon points="889,4 889,9 886.5,6.5" fill="#1a73c8"/>
<polygon points="897,5 898.5,3 900,5" fill="#fff"/>
<polygon points="905,11 907,12.5 905,14" fill="#fff"/>
<polygon points="900,4 900,10.5 905,7.2" fill="#fff" opacity="0.9"/>
<polygon points="920,4.5 924,8 920,11.5" fill="#1a73c8"/>
<g fill="#ff8000"><polygon points="986,69 990,64.5 994,69"/><polygon points="986,72.5 990,68 994,72.5"/></g>
<g fill="#111" shape-rendering="crispEdges">
<rect x="137" y="135" width="7" height="1"/><rect x="139" y="133" width="1" height="3"/>
<rect x="461" y="384" width="7" height="1"/><rect x="463" y="382" width="1" height="4"/>
<rect x="875" y="60" width="7" height="1"/><rect x="877" y="58" width="1" height="4"/>
</g>
<g>
<polygon points="7.5,549.5 11.5,549.5 13.5,551.5 13.5,554.5 11.5,556.5 7.5,556.5 5.5,554.5 5.5,551.5" fill="#fff" stroke="#000" stroke-width="1"/>
<circle cx="10" cy="552.7" r="1.9" fill="#f00"/>
<g stroke="#f00" stroke-width="1">
<line x1="9.5" y1="545.8" x2="9.5" y2="547.8"/><line x1="9.5" y1="558" x2="9.5" y2="560"/>
<line x1="3" y1="552.5" x2="5" y2="552.5"/><line x1="15" y1="552.5" x2="17" y2="552.5"/>
<line x1="4" y1="547.3" x2="5.5" y2="548.5"/><line x1="14" y1="548.5" x2="15.5" y2="547.3"/>
<line x1="4" y1="558.7" x2="5.5" y2="557.5"/><line x1="14" y1="557.5" x2="15.5" y2="558.7"/>
</g></g>
<g shape-rendering="crispEdges">
<rect x="1" y="663" width="69" height="1" fill="#d0d6de"/>
<rect x="70" y="663" width="1" height="20" fill="#d0d6de"/>
<rect x="1" y="682" width="69" height="1" fill="#dde2e8"/><rect x="1" y="683" width="39" height="1" fill="#ff6a00"/><polygon points="46.5,678.5 55,678.5 50.75,670" fill="#ff7f00"/>
<rect x="265" y="664" width="1" height="5" fill="#b8c2ce"/>
<rect x="481" y="664" width="1" height="5" fill="#b8c2ce"/>
<rect x="697" y="664" width="1" height="5" fill="#b8c2ce"/>
</g>

</svg>
<div class="yl l" style="top:13px">155.638</div>
<div class="yl r" style="top:13px">155.638</div>
<div class="yl l" style="top:68px">155.328</div>
<div class="yl r" style="top:68px">155.328</div>
<div class="yl l" style="top:123px">155.019</div>
<div class="yl r" style="top:123px">155.019</div>
<div class="yl l" style="top:179px">154.710</div>
<div class="yl r" style="top:179px">154.710</div>
<div class="yl l" style="top:234px">154.400</div>
<div class="yl r" style="top:234px">154.400</div>
<div class="yl l" style="top:290px">154.091</div>
<div class="yl r" style="top:290px">154.091</div>
<div class="yl l" style="top:345px">153.782</div>
<div class="yl r" style="top:345px">153.782</div>
<div class="yl l" style="top:422px">0.172</div>
<div class="yl r" style="top:422px">0.172</div>
<div class="yl l" style="top:445px">0.112</div>
<div class="yl r" style="top:445px">0.112</div>
<div class="yl l" style="top:468px">0.053</div>
<div class="yl r" style="top:468px">0.053</div>
<div class="yl l" style="top:491px">-0.006</div>
<div class="yl r" style="top:491px">-0.006</div>
<div class="yl l" style="top:514px">-0.066</div>
<div class="yl r" style="top:514px">-0.066</div>
<div class="yl l" style="top:559px">71.923</div>
<div class="yl r" style="top:559px">71.923</div>
<div class="yl l" style="top:583px">61.724</div>
<div class="yl r" style="top:583px">61.724</div>
<div class="yl l" style="top:607px">51.526</div>
<div class="yl r" style="top:607px">51.526</div>
<div class="yl l" style="top:631px">41.327</div>
<div class="yl r" style="top:631px">41.327</div>
<div class="t" style="left:73px;top:2px;color:#111"><span style="display:inline-block;width:48px">美元日元</span></div>
<div class="t" style="left:121px;top:2px;color:#ff7f00"><span style="display:inline-block;width:12px">【</span>60<span style="display:inline-block;width:12px">分</span><span style="display:inline-block;width:12px">】</span></div>
<div class="t" style="left:203px;top:2px;color:#111">ALLIGAT</div>
<div class="t" style="left:255px;top:2px;color:#0000ff"><span style="display:inline-block;width:24px">上唇</span>:155.035</div>
<div class="t" style="left:335px;top:2px;color:#ff0000"><span style="display:inline-block;width:24px">牙齿</span>:155.152</div>
<div class="t" style="left:415px;top:2px;color:#00e800"><span style="display:inline-block;width:24px">下颚</span>:155.195</div>
<div class="t" style="left:73px;top:411px;color:#111">MACD(26,12,9)</div>
<div class="t" style="left:163px;top:411px;color:#3a8cf0">DIFF:0.105</div>
<div class="t" style="left:230px;top:411px;color:#4cc080">DEA:0.105</div>
<div class="t" style="left:296px;top:411px;color:#44b4e8">MACD:0.001</div>
<div class="t" style="left:73px;top:547px;color:#111">RSI(14,14,14)</div>
<div class="t" style="left:152px;top:547px;color:#4c9cf0">RSI1:62.498</div>
<div class="t" style="left:227px;top:547px;color:#4cc080">RSI2:62.498</div>
<div class="t" style="left:302px;top:547px;color:#3cace0">RSI3:62.498</div>
<div class="t" style="left:145px;top:120px;color:#e84e5e;font-weight:bold">155.006</div>
<div class="t" style="left:883px;top:45px;color:#e84e5e;font-weight:bold">155.421</div>
<div class="t" style="left:469px;top:384px;color:#52aa88;font-weight:bold">153.614</div>
<div class="xl" style="left:268px">11/14</div>
<div class="xl" style="left:484px">11/15</div>
<div class="xl" style="left:700px">11/18</div>
<div style="position:absolute;left:926px;top:72px;width:69px;height:18px;border:1px solid #ff8000;background:#fff"></div>
<div class="t" style="left:929px;top:73px;color:#ff8000">155.356</div>
<div class="t" style="left:15px;top:666px;color:#ff7f00;font-size:13px">60<span style="display:inline-block;width:13px">分</span></div>
<div style="position:absolute;left:867px;top:631px;font-size:30px;line-height:34px;color:#dce6f2;text-shadow:1px 1px 1px #b8a898;letter-spacing:2.4px">FX678</div>
</body></html>
